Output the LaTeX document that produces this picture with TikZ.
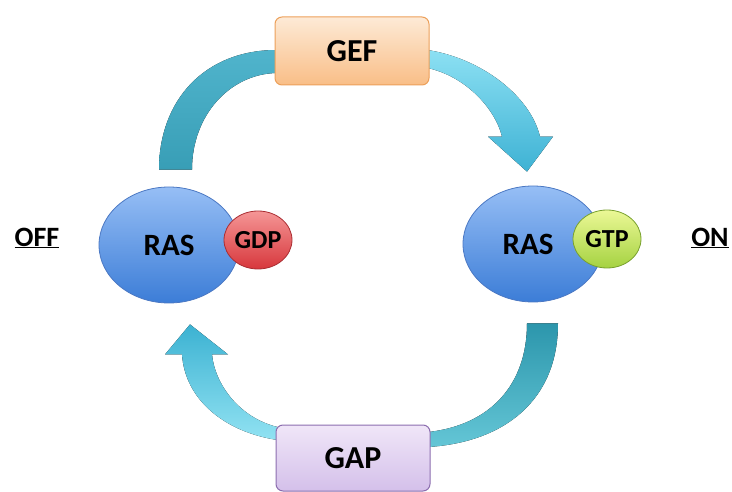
\documentclass[tikz,border=0pt]{standalone}
\usepackage{fontspec}
\setmainfont{Carlito}
\usepackage{tikz}
\usetikzlibrary{shapes.geometric, calc, backgrounds}
\definecolor{geftop}{RGB}{253,234,214}
\definecolor{gefbottom}{RGB}{249,190,135}
\definecolor{gefborder}{RGB}{236,160,90}
\definecolor{gaptop}{RGB}{240,230,248}
\definecolor{gapbottom}{RGB}{212,192,234}
\definecolor{gapborder}{RGB}{140,110,175}
\definecolor{rastop}{RGB}{150,190,245}
\definecolor{rasbottom}{RGB}{60,125,215}
\definecolor{rasborder}{RGB}{75,120,195}
\definecolor{gdptop}{RGB}{245,150,150}
\definecolor{gdpbottom}{RGB}{215,55,60}
\definecolor{gdpborder}{RGB}{170,45,50}
\definecolor{gtptop}{RGB}{235,248,150}
\definecolor{gtpbottom}{RGB}{165,210,65}
\definecolor{gtpborder}{RGB}{120,160,45}
\tikzstyle{enzyme} = [rectangle, rounded corners=7pt, minimum width=154pt, minimum height=68pt, line width=1pt, font=\fontsize{32}{36}\selectfont\bfseries]
\tikzstyle{protein} = [ellipse, inner sep=0pt, draw=rasborder, line width=0.8pt, top color=rastop, bottom color=rasbottom, minimum width=140pt, minimum height=116pt, font=\fontsize{31}{34}\selectfont\bfseries]
\tikzstyle{nucleotide} = [ellipse, inner sep=0pt, minimum width=68pt, minimum height=58pt, line width=0.8pt, font=\fontsize{26}{29}\selectfont\bfseries]
\tikzstyle{state} = [font=\fontsize{28}{31}\selectfont\bfseries]

\begin{document}
\begin{tikzpicture}[x=1pt, y=-1pt]
          \useasboundingbox (0,0) rectangle (732,492);

          % Node positions
          \node[enzyme, draw=gefborder, top color=geftop, bottom color=gefbottom] (gef) at (352,51) {GEF};
          \node[enzyme, draw=gapborder, top color=gaptop, bottom color=gapbottom, minimum height=66pt] (gap) at (353,458) {GAP};
          \node[protein] (rasoff) at (169,245) {RAS};
          \node[nucleotide, draw=gdpborder, top color=gdptop, bottom color=gdpbottom] (gdp) at (258,240) {GDP};
          \node[protein] (rason) at (533,244) {RAS\hspace*{10pt}};
          \node[nucleotide, draw=gtpborder, top color=gtptop, bottom color=gtpbottom] (gtp) at (607,239) {GTP};
          \node[state] (off) at (37,238) {\underline{OFF}};
          \node[state] (on) at (710,238) {\underline{ON}};

          % Arrows
          \begin{scope}[on background layer]
          \fill[top color={rgb,255:red,80;green,180;blue,204}, bottom color={rgb,255:red,56;green,158;blue,182}]
            ($(gef.west)+(2,-1)$) .. controls (205,50) and (159,100) .. ($(rasoff.north)+(-10,-17)$)
            -- ($(rasoff.north)+(23,-17)$) .. controls (192,115) and (230,74) .. ($(gef.west)+(2,22)$) -- cycle;
          \fill[top color={rgb,255:red,140;green,224;blue,243}, bottom color={rgb,255:red,62;green,178;blue,212}]
            ($(gef.east)+(-2,-1)$) .. controls (480,58) and (530,95) .. ($(rason.north)+(7,-49)$)
            -- ++(13,0) -- ($(rason.north)+(-6,-14)$) -- ($(rason.north)+(-45,-49)$) -- ++(14,0)
            .. controls (495,108) and (465,76) .. ($(gef.east)+(-2,17)$) -- cycle;
          \fill[top color={rgb,255:red,44;green,150;blue,172}, bottom color={rgb,255:red,100;green,198;blue,214}]
            ($(rason.south)+(25,21)$) .. controls (558,400) and (505,442) .. ($(gap.east)+(-2,-11)$)
            -- ($(gap.east)+(-2,-26)$) .. controls (490,425) and (527,385) .. ($(rason.south)+(-6,21)$) -- cycle;
          \fill[top color={rgb,255:red,60;green,178;blue,210}, bottom color={rgb,255:red,145;green,226;blue,242}]
            ($(gap.west)+(2,-18)$) .. controls (225,432) and (185,400) .. ($(rasoff.south)+(13,51)$)
            -- ++(-17,0) -- ($(rasoff.south)+(21,21)$) -- ($(rasoff.south)+(59,51)$) -- ++(-16,0)
            .. controls (215,385) and (240,418) .. ($(gap.west)+(2,-31)$) -- cycle;
          \end{scope}

        \end{tikzpicture}
\end{document}
